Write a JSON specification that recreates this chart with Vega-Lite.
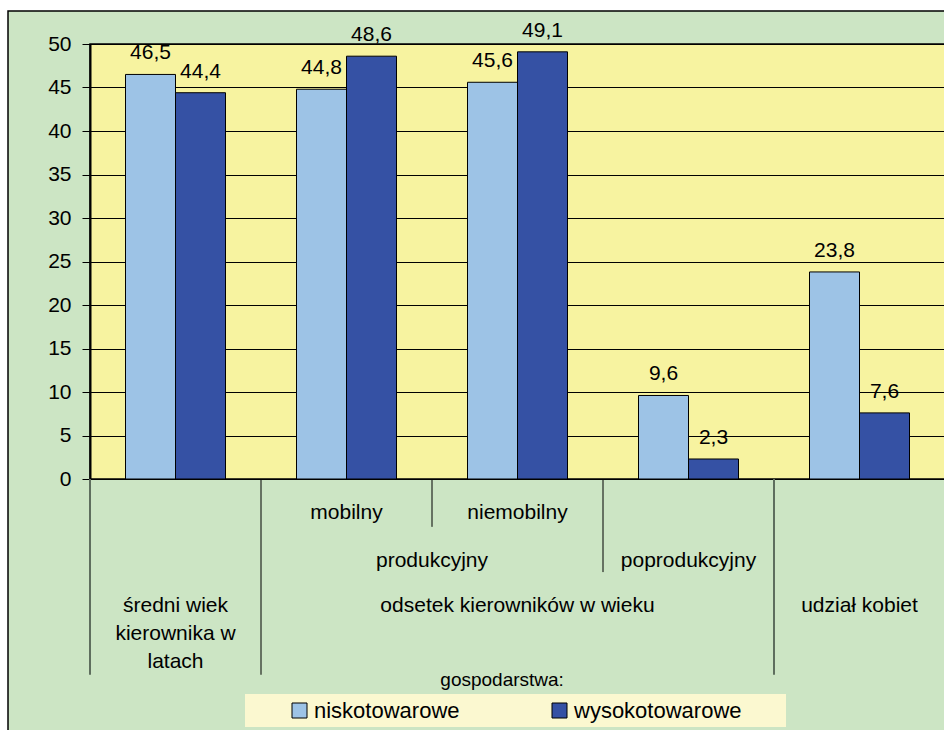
{
  "$schema": "https://vega.github.io/schema/vega-lite/v6.json",
  "autosize": "none",
  "width": 855,
  "height": 435,
  "padding": {"left": 90, "top": 44, "right": 0, "bottom": 251},
  "background": "#CCE5C4",
  "config": {
    "font": "Liberation Sans",
    "locale": {"number": {"decimal": ",", "thousands": " ", "grouping": [3], "currency": ["", " zł"]}},
    "view": {"fill": "#F7F3A0", "stroke": "#000000", "strokeWidth": 1.5},
    "text": {"font": "Liberation Sans", "fontSize": 21, "color": "#000000"}
  },
  "datasets": {
    "bars": [
      {"kat": "średni wiek kierownika w latach", "gosp": "niskotowarowe", "v": 46.5},
      {"kat": "średni wiek kierownika w latach", "gosp": "wysokotowarowe", "v": 44.4},
      {"kat": "mobilny", "gosp": "niskotowarowe", "v": 44.8},
      {"kat": "mobilny", "gosp": "wysokotowarowe", "v": 48.6},
      {"kat": "niemobilny", "gosp": "niskotowarowe", "v": 45.6},
      {"kat": "niemobilny", "gosp": "wysokotowarowe", "v": 49.1},
      {"kat": "poprodukcyjny", "gosp": "niskotowarowe", "v": 9.6},
      {"kat": "poprodukcyjny", "gosp": "wysokotowarowe", "v": 2.3},
      {"kat": "udział kobiet", "gosp": "niskotowarowe", "v": 23.8},
      {"kat": "udział kobiet", "gosp": "wysokotowarowe", "v": 7.6}
    ],
    "one": [{}]
  },
  "layer": [
    {
      "data": {"name": "one"},
      "mark": {"type": "rect", "fill": "#FFFFFF"},
      "encoding": {
        "x": {"datum": "średni wiek kierownika w latach", "type": "nominal", "bandPosition": -0.6, "scale": {"domain": ["średni wiek kierownika w latach", "mobilny", "niemobilny", "poprodukcyjny", "udział kobiet"], "paddingInner": 0, "paddingOuter": 0}, "axis": null},
        "x2": {"datum": "średni wiek kierownika w latach", "bandPosition": -0.4795},
        "y": {"datum": 60, "type": "quantitative", "scale": {"domain": [0, 50], "nice": false}},
        "y2": {"datum": -40}
      }
    },
    {
      "data": {"name": "one"},
      "mark": {"type": "rect", "fill": "#FFFFFF"},
      "encoding": {
        "x": {"datum": "średni wiek kierownika w latach", "type": "nominal", "bandPosition": -0.6, "axis": null},
        "x2": {"datum": "udział kobiet", "bandPosition": 1.3},
        "y": {"datum": 60, "type": "quantitative"},
        "y2": {"datum": 53.8}
      }
    },
    {
      "data": {"name": "one"},
      "mark": {"type": "rect", "filled": false, "stroke": "#000000", "strokeWidth": 1.5},
      "encoding": {
        "x": {"datum": "średni wiek kierownika w latach", "type": "nominal", "bandPosition": -0.4795, "axis": null},
        "x2": {"datum": "udział kobiet", "bandPosition": 1.3},
        "y": {"datum": 53.8, "type": "quantitative"},
        "y2": {"datum": -40}
      }
    },
    {
      "data": {"name": "bars"},
      "mark": {"type": "bar", "stroke": "#000000", "strokeWidth": 1},
      "encoding": {
        "x": {"field": "kat", "type": "nominal", "scale": {"domain": ["średni wiek kierownika w latach", "mobilny", "niemobilny", "poprodukcyjny", "udział kobiet"], "paddingInner": 0, "paddingOuter": 0}, "axis": null},
        "xOffset": {"field": "gosp", "type": "nominal", "scale": {"domain": ["niskotowarowe", "wysokotowarowe"], "paddingInner": 0, "paddingOuter": 0.71}},
        "y": {
          "field": "v", "type": "quantitative",
          "scale": {"domain": [0, 50], "nice": false},
          "axis": {
            "title": null, "values": [0, 5, 10, 15, 20, 25, 30, 35, 40, 45, 50],
            "grid": true, "gridColor": "#000000", "gridWidth": 1, "gridOpacity": 1,
            "domainColor": "#000000", "domainWidth": 2,
            "tickColor": "#000000", "tickSize": 8, "tickWidth": 1,
            "labelFontSize": 21, "labelColor": "#000000", "labelPadding": 11, "labelFont": "Liberation Sans"
          }
        },
        "color": {
          "field": "gosp", "type": "nominal",
          "scale": {"domain": ["niskotowarowe", "wysokotowarowe"], "range": ["#9DC3E6", "#3551A4"]},
          "legend": {
            "orient": "none", "legendX": 155, "legendY": 650, "direction": "horizontal",
            "title": " ", "titleOrient": "right", "titleFontSize": 1, "titlePadding": 39,
            "padding": 5.5, "fillColor": "#FBF8D0",
            "symbolType": "square", "symbolSize": 225, "symbolStrokeColor": "#000000", "symbolStrokeWidth": 1,
            "symbolOffset": 38, "labelOffset": 3.5, "labelFontSize": 22, "labelColor": "#000000",
            "labelFont": "Liberation Sans", "columnPadding": 50, "labelLimit": 400
          }
        }
      }
    },
    {
      "data": {"name": "bars"},
      "mark": {"type": "text", "baseline": "alphabetic", "align": "center", "dy": -15, "fontSize": 21},
      "encoding": {
        "x": {"field": "kat", "type": "nominal", "axis": null},
        "xOffset": {"field": "gosp", "type": "nominal"},
        "y": {"field": "v", "type": "quantitative"},
        "text": {"field": "v", "type": "quantitative", "format": ".1f"}
      }
    },
    {
      "data": {"values": [{"kat": "średni wiek kierownika w latach"}, {"kat": "udział kobiet"}]},
      "mark": {"type": "rule", "color": "#5E6E5E", "strokeWidth": 2},
      "encoding": {
        "x": {"field": "kat", "type": "nominal", "bandPosition": 0, "axis": null},
        "y": {"datum": 0, "type": "quantitative"},
        "y2": {"datum": -22.5}
      }
    },
    {
      "data": {"values": [{"kat": "mobilny"}]},
      "mark": {"type": "rule", "color": "#000000", "strokeWidth": 1},
      "encoding": {
        "x": {"field": "kat", "type": "nominal", "bandPosition": 0, "axis": null},
        "y": {"datum": 0, "type": "quantitative"},
        "y2": {"datum": -22.5}
      }
    },
    {
      "data": {"values": [{"kat": "niemobilny"}]},
      "mark": {"type": "rule", "color": "#000000", "strokeWidth": 1},
      "encoding": {
        "x": {"field": "kat", "type": "nominal", "bandPosition": 0, "axis": null},
        "y": {"datum": 0, "type": "quantitative"},
        "y2": {"datum": -5.5}
      }
    },
    {
      "data": {"values": [{"kat": "poprodukcyjny"}]},
      "mark": {"type": "rule", "color": "#000000", "strokeWidth": 1},
      "encoding": {
        "x": {"field": "kat", "type": "nominal", "bandPosition": 0, "axis": null},
        "y": {"datum": 0, "type": "quantitative"},
        "y2": {"datum": -10.7}
      }
    },
    {
      "data": {"values": [{"kat": "mobilny", "label": "mobilny"}, {"kat": "niemobilny", "label": "niemobilny"}]},
      "mark": {"type": "text", "baseline": "alphabetic", "align": "center", "fontSize": 21},
      "encoding": {
        "x": {"field": "kat", "type": "nominal", "bandPosition": 0.5, "axis": null},
        "y": {"datum": -4.6, "type": "quantitative"},
        "text": {"field": "label"}
      }
    },
    {
      "data": {"values": [{"kat": "niemobilny", "label": "produkcyjny"}]},
      "mark": {"type": "text", "baseline": "alphabetic", "align": "center", "fontSize": 21},
      "encoding": {
        "x": {"field": "kat", "type": "nominal", "bandPosition": 0, "axis": null},
        "y": {"datum": -10.1, "type": "quantitative"},
        "text": {"field": "label"}
      }
    },
    {
      "data": {"values": [{"kat": "poprodukcyjny", "label": "poprodukcyjny"}]},
      "mark": {"type": "text", "baseline": "alphabetic", "align": "center", "fontSize": 21},
      "encoding": {
        "x": {"field": "kat", "type": "nominal", "bandPosition": 0.5, "axis": null},
        "y": {"datum": -10.1, "type": "quantitative"},
        "text": {"field": "label"}
      }
    },
    {
      "data": {"values": [
        {"kat": "średni wiek kierownika w latach", "label": ["średni wiek", "kierownika w", "latach"]},
        {"kat": "niemobilny", "label": ["odsetek kierowników w wieku"]},
        {"kat": "udział kobiet", "label": ["udział kobiet"]}
      ]},
      "mark": {"type": "text", "baseline": "alphabetic", "align": "center", "fontSize": 21, "lineHeight": 28},
      "encoding": {
        "x": {"field": "kat", "type": "nominal", "bandPosition": 0.5, "axis": null},
        "y": {"datum": -15.3, "type": "quantitative"},
        "text": {"field": "label"}
      }
    },
    {
      "data": {"values": [{"kat": "niemobilny", "label": "gospodarstwa:"}]},
      "mark": {"type": "text", "baseline": "alphabetic", "align": "center", "fontSize": 19},
      "encoding": {
        "x": {"field": "kat", "type": "nominal", "bandPosition": 0.41, "axis": null},
        "y": {"datum": -23.8, "type": "quantitative"},
        "text": {"field": "label"}
      }
    }
  ]
}
